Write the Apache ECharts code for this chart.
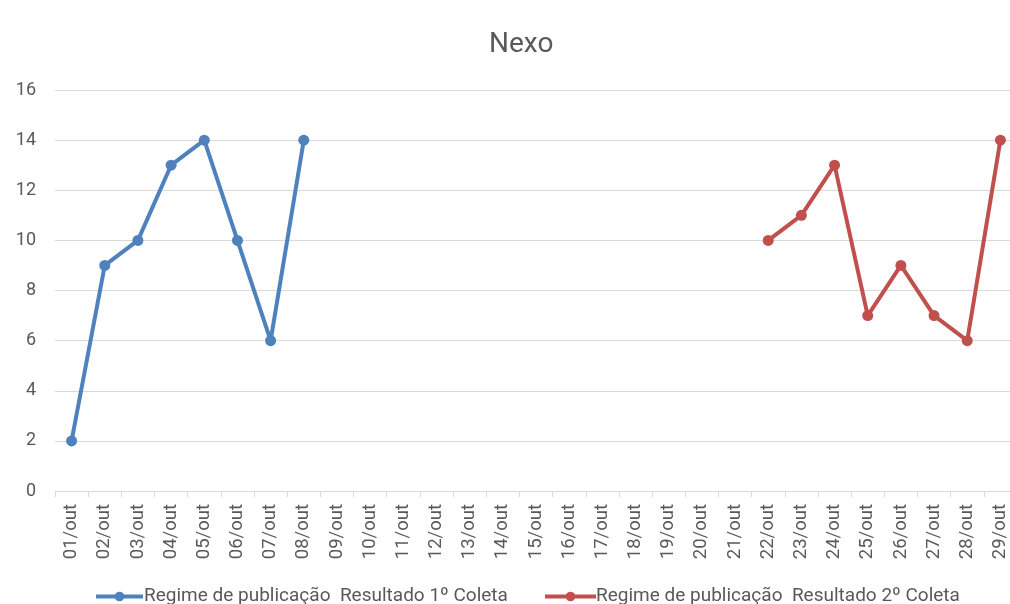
<!DOCTYPE html>
<html><head><meta charset="utf-8">
<script src="https://cdn.jsdelivr.net/npm/echarts@6/dist/echarts.min.js"></script>
<style>html,body{margin:0;padding:0;background:#fff}#c{width:1010px;height:604px}</style>
</head><body><div id="c"></div>
<script>
const categories = ['01/out','02/out','03/out','04/out','05/out','06/out','07/out','08/out','09/out','10/out','11/out','12/out','13/out','14/out','15/out','16/out','17/out','18/out','19/out','20/out','21/out','22/out','23/out','24/out','25/out','26/out','27/out','28/out','29/out'];
const coleta1 = [2,9,10,13,14,10,6,14,null,null,null,null,null,null,null,null,null,null,null,null,null,null,null,null,null,null,null,null,null];
const coleta2 = [null,null,null,null,null,null,null,null,null,null,null,null,null,null,null,null,null,null,null,null,null,10,11,13,7,9,7,6,14];
const name1 = 'Regime de publicação  Resultado 1º Coleta';
const name2 = 'Regime de publicação  Resultado 2º Coleta';
const yTicks = {min:0, max:16, interval:2};

const font = 'Roboto, sans-serif';
const txt = '#595959';
const chart = echarts.init(document.getElementById('c'), null, {renderer:'canvas'});
chart.setOption({
  animation:false,
  backgroundColor:'#fff',
  title:{text:'Nexo', left:484, top:26, textStyle:{fontFamily:font, fontSize:28, fontWeight:'normal', color:txt}},
  legend:[
    {data:[name1], left:89, top:582, itemWidth:47, itemHeight:12, itemGap:0, lineStyle:{width:4}, textStyle:{fontFamily:font, fontSize:19, color:txt, padding:[0,0,0,-4]}},
    {data:[name2], left:538, top:582, itemWidth:51, itemHeight:12, itemGap:0, lineStyle:{width:4}, textStyle:{fontFamily:font, fontSize:19, color:txt, padding:[0,0,0,-5]}}
  ],
  grid:{left:55, width:962, top:90, height:401, containLabel:false, outerBoundsMode:'none'},
  xAxis:{type:'category', data:categories, boundaryGap:true,
    axisLine:{lineStyle:{color:'#d9d9d9'}},
    axisTick:{show:true, length:6, lineStyle:{color:'#d9d9d9'}},
    axisLabel:{rotate:90, interval:0, fontFamily:font, fontSize:18.5, color:txt, margin:13}},
  yAxis:{type:'value', min:yTicks.min, max:yTicks.max, interval:yTicks.interval,
    axisLine:{show:false}, axisTick:{show:false},
    splitLine:{lineStyle:{color:'#d9d9d9'}},
    axisLabel:{fontFamily:font, fontSize:18, color:txt, margin:19}},
  series:[
    {name:name1, type:'line', data:coleta1, color:'#4F81BD', symbol:'circle', symbolSize:11, lineStyle:{width:4}, connectNulls:false},
    {name:name2, type:'line', data:coleta2, color:'#C0504D', symbol:'circle', symbolSize:11, lineStyle:{width:4}, connectNulls:false}
  ]
});
</script></body></html>
